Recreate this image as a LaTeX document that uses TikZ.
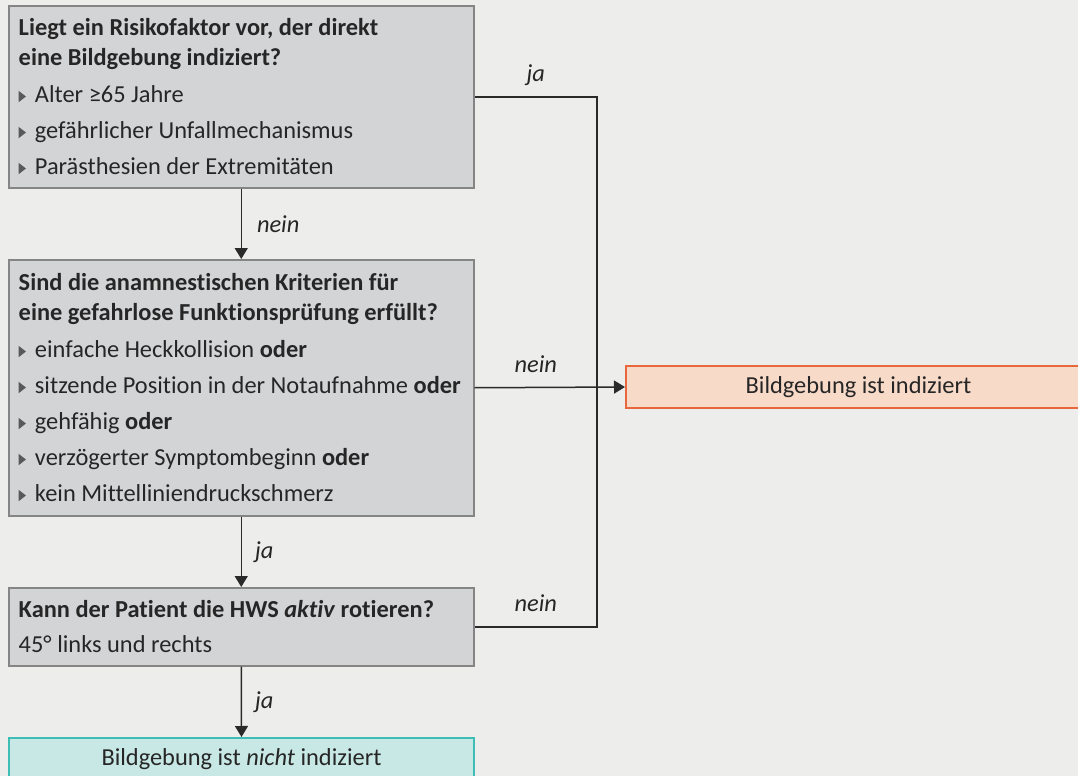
\documentclass[tikz,border=0pt]{standalone}
\usepackage{fontspec}
\setmainfont[Ligatures=NoCommon]{Carlito}
\usetikzlibrary{positioning}
\usetikzlibrary{arrows.meta}
\usetikzlibrary{calc}
\definecolor{bgcol}{HTML}{EDEEEC}
\definecolor{qfill}{HTML}{D3D4D6}
\definecolor{qborder}{HTML}{858585}
\definecolor{linecol}{HTML}{2A2A2A}
\definecolor{txtcol}{HTML}{262626}
\definecolor{redfill}{HTML}{F8DAC9}
\definecolor{redborder}{HTML}{E8673C}
\definecolor{greenfill}{HTML}{C8E8E5}
\definecolor{greenborder}{HTML}{3DBDB3}
\newcommand{\qfont}{\fontsize{12.2}{15}\selectfont}
\newcommand{\tri}{\tikz[baseline=0pt]\fill[black!65] (0pt,0.3pt) -- (3.6pt,3.1pt) -- (0pt,5.9pt) -- cycle;\hspace{4.5pt}}
\tikzstyle{qbox}=[draw=qborder, fill=qfill, line width=0.75pt, anchor=north west, minimum width=232.5pt, text width=222.5pt, inner xsep=5pt, inner ysep=0pt, align=flush left, font=\qfont, text=txtcol]
\tikzstyle{resbox}=[line width=1pt, minimum width=232.5pt, minimum height=21pt, inner sep=0pt, align=center, font=\qfont, text=txtcol]
\tikzstyle{flow}=[draw=linecol, line width=0.75pt, -{Triangle[length=5.5pt,width=6.5pt]}]
\tikzstyle{link}=[draw=linecol, line width=0.75pt]
\tikzstyle{lbl}=[font=\qfont\itshape, inner sep=0pt, text=txtcol]

\begin{document}
\begin{tikzpicture}[x=0.5pt, y=-0.5pt]

  \fill[bgcol] (0,0) rectangle (1078,776);
  \useasboundingbox (0,0) rectangle (1078,776);

  % question boxes
  \node[qbox, minimum height=91pt] (risk) at (8,5) {%
    \textbf{Liegt ein Risikofaktor vor, der direkt\\ eine Bildgebung indiziert?}\\[3.5pt]
    \tri Alter ≥65 Jahre\\[3pt]
    \tri gefährlicher Unfallmechanismus\\[3pt]
    \tri Parästhesien der Extremitäten};

  \node[qbox, minimum height=128pt] (crit) at (8,259) {%
    \textbf{Sind die anamnestischen Kriterien für\\ eine gefahrlose Funktionsprüfung erfüllt?}\\[3.5pt]
    \tri einfache Heckkollision \textbf{oder}\\[3pt]
    \tri sitzende Position in der Notaufnahme \textbf{oder}\\[3pt]
    \tri gehfähig \textbf{oder}\\[3pt]
    \tri verzögerter Symptombeginn \textbf{oder}\\[3pt]
    \tri kein Mittelliniendruckschmerz};

  \node[qbox, minimum height=39pt] (rot) at (8,587) {%
    \textbf{Kann der Patient die HWS \textit{aktiv} rotieren?}\\[2.5pt]
    45° links und rechts};

  % results
  \node[resbox, draw=redborder, fill=redfill, anchor=west] (yes) at (625,387) {Bildgebung ist indiziert};
  \node[resbox, draw=greenborder, fill=greenfill, anchor=north west] (no) at (8,737) {Bildgebung ist \textit{nicht} indiziert};

  \coordinate (rail) at (597,0);

  % connectors
  \draw[flow] (risk.south) -- (crit.north) node[lbl, midway, right=7.5pt] {nein};
  \draw[flow] (crit.south) -- (rot.north) node[lbl, midway, right=6.5pt] {ja};
  \draw[flow] (rot.south) -- (no.north) node[lbl, midway, right=6.5pt] {ja};
  \draw[link] (risk.east) -- (risk.east -| rail) -- (rot.east -| rail) -- (rot.east);
  \draw[flow] (crit.east) -- (yes.west);

  \node[lbl, anchor=base] (lja) at ($(risk.east)!0.5!(risk.east -| rail)+(0,-15)$) {ja};
  \node[lbl, anchor=base] (lnein) at ($(crit.east)!0.5!(crit.east -| rail)+(0,-15)$) {nein};
  \node[lbl, anchor=base] (lnein2) at ($(rot.east)!0.5!(rot.east -| rail)+(0,-15)$) {nein};

\end{tikzpicture}
\end{document}
